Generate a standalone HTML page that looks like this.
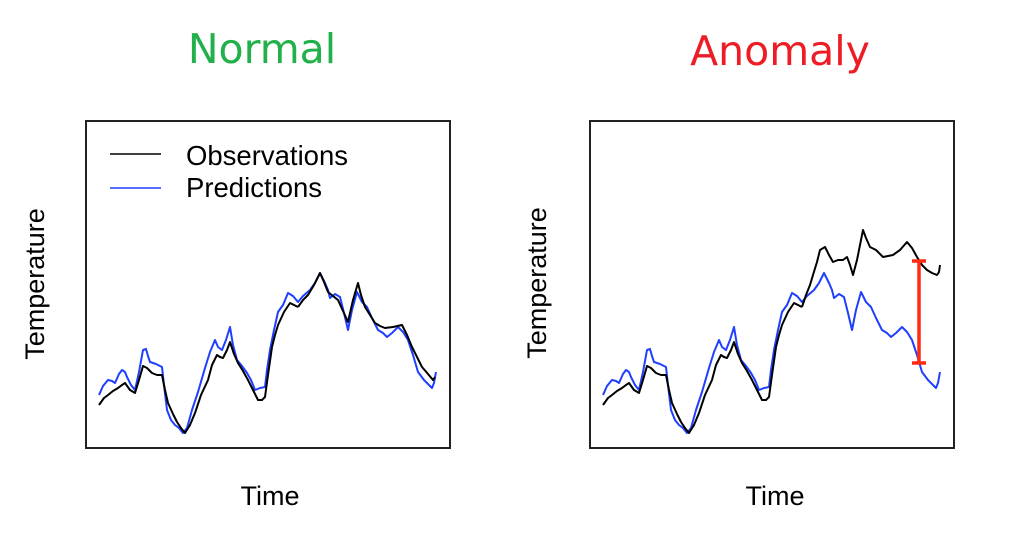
<!DOCTYPE html>
<html><head><meta charset="utf-8"><style>
html,body{margin:0;padding:0;background:#fff;}
svg{display:block;}
text{font-family:"Liberation Sans",sans-serif;}
</style></head><body>
<svg width="1024" height="537" viewBox="0 0 1024 537" xmlns="http://www.w3.org/2000/svg">
<defs>
<polyline id="blue" fill="none" stroke="#1f3fff" stroke-width="2" stroke-linejoin="round" points="99,395 103,386 108,380 112,381 115,383 119,374 122,370 125,372 127,377 131,385 135,390 139,372 143,350 146,349 148,356 150,362 156,364 162,367 164,385 167,410 171,420 175,425 179,428 183,433 187,428 192,410 198,392 205,368 210,352 215,340 218,347 222,350 226,340 230,327 233,345 237,360 242,366 247,373 251,380 255,390 260,388 265,387 267,370 270,350 274,330 278,312 283,305 288,293 293,296 298,302 303,296 310,290 315,283 320,273 325,283 328,290 330,298 335,294 340,297 344,313 348,330 352,310 357,292 362,302 367,307 372,318 378,330 383,333 387,337 392,333 398,327 403,332 408,340 413,355 418,372 424,380 428,384 432,388 434,383 436,372"/>
<polyline id="blackA" fill="none" stroke="#000" stroke-width="2" stroke-linejoin="round" points="99,405 104,398 108,395 113,391 118,388 122,385 125,383 130,390 135,393 139,380 143,366 147,368 152,373 157,375 162,375 165,390 168,403 173,414 177,422 181,428 185,433 190,425 195,413 201,395 208,380 212,365 217,355 220,357 223,358 227,350 230,342 234,354 238,363 243,371 248,380 253,390 258,400 262,400 265,397 268,375 272,347 275,335 278,325 284,312 290,303 294,305 298,307"/>
</defs>
<text x="262" y="63" font-size="41" fill="#22b04b" text-anchor="middle" style="font-family:'DejaVu Sans','Liberation Sans',sans-serif">Normal</text>
<text x="780" y="65" font-size="41" fill="#ee1c25" text-anchor="middle" style="font-family:'DejaVu Sans','Liberation Sans',sans-serif">Anomaly</text>

<rect x="86" y="121" width="364" height="327" fill="none" stroke="#222" stroke-width="2"/>
<rect x="590" y="121" width="364" height="327" fill="none" stroke="#222" stroke-width="2"/>

<text x="0" y="0" font-size="27" text-anchor="middle" transform="translate(44,284) rotate(-90)">Temperature</text>
<text x="0" y="0" font-size="27" text-anchor="middle" transform="translate(546,283) rotate(-90)">Temperature</text>
<text x="270" y="505" font-size="27" text-anchor="middle">Time</text>
<text x="775" y="505" font-size="27" text-anchor="middle">Time</text>

<line x1="110" y1="154" x2="161" y2="154" stroke="#000" stroke-width="1.5"/>
<line x1="110" y1="188" x2="161" y2="188" stroke="#1f3fff" stroke-width="1.5"/>
<text x="186" y="165" font-size="27.5">Observations</text>
<text x="186" y="197" font-size="27.5">Predictions</text>

<use href="#blue"/>
<use href="#blackA"/>
<polyline fill="none" stroke="#000" stroke-width="2" stroke-linejoin="round" points="298,307 303,300 308,295 314,285 320,273 324,282 328,292 333,296 338,300 343,311 348,322 353,300 358,283 361,295 365,307 370,315 375,323 380,326 385,328 393,327 402,325 407,335 412,347 417,357 422,367 428,374 433,380 435,377"/>

<use href="#blue" transform="translate(504,0)"/>
<use href="#blackA" transform="translate(504,0)"/>
<polyline fill="none" stroke="#000" stroke-width="2" stroke-linejoin="round" points="802,307 806,295 810,285 813,275 817,262 820,250 825,247 829,255 833,262 838,260 843,260 847,257 850,265 853,275 857,260 863,230 866,238 870,247 876,250 883,257 888,256 893,255 900,250 907,242 912,248 917,257 922,265 927,270 932,273 937,275 939,272 940,265"/>

<g stroke="#ff2a10" stroke-width="3.5">
<line x1="919" y1="261" x2="919" y2="363"/>
<line x1="912" y1="261" x2="926" y2="261"/>
<line x1="912" y1="363" x2="926" y2="363"/>
</g>
</svg>
</body></html>
